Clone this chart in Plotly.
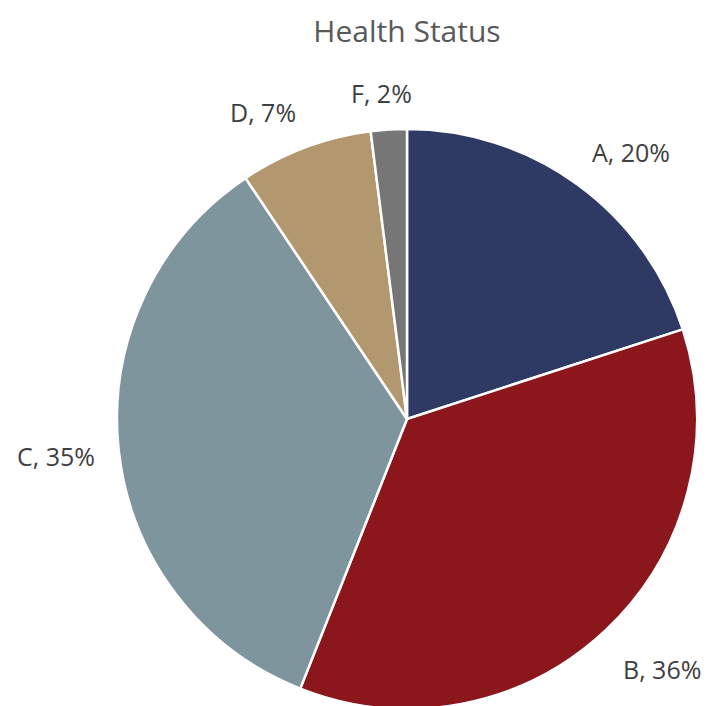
import math
import plotly.graph_objects as go

labels = ["A", "B", "C", "D", "F"]
values = [20.0, 36.0, 34.6, 7.4, 2.0]
colors = ["#2E3A64", "#8B171D", "#7F959D", "#B3976E", "#767676"]
title_text = "Health Status"

W, H = 710, 706
ml, mr, mt, mb = 109, 21, 121, 5
pw, ph = W - ml - mr, H - mt - mb
R = min(pw, ph) / 2.0
FONT = "Open Sans, Lato, sans-serif"

fig = go.Figure(go.Pie(
    labels=labels, values=values, sort=False, direction="clockwise", rotation=0,
    marker=dict(colors=colors, line=dict(color="white", width=2.5)),
    textinfo="none", hoverinfo="label+percent", showlegend=False,
))

# label placement derived from slice mid-angles
total = sum(values)
cum = 0.0
annotations = []
gap = 22
for lab, v in zip(labels, values):
    mid = (cum + v / 2) / total * 2 * math.pi
    cum += v
    s, c = math.sin(mid), math.cos(mid)
    px_off = (R + gap) * s
    py_off = (R + gap) * c
    xa = "left" if s > 0.3 else ("right" if s < -0.3 else "center")
    ya = "bottom" if c > 0.3 else ("top" if c < -0.3 else "middle")
    pct = round(v / total * 100)
    annotations.append(dict(
        x=0.5 + px_off / pw, y=0.5 + py_off / ph, xref="paper", yref="paper",
        text=f"{lab}, {pct}%", showarrow=False, xanchor=xa, yanchor=ya,
        xshift=-6 if xa == "center" else 0, yshift=-4,
        font=dict(size=25, color="#404040", family=FONT),
    ))

fig.update_layout(
    width=W, height=H,
    margin=dict(l=ml, r=mr, t=mt, b=mb),
    paper_bgcolor="white", plot_bgcolor="white",
    title=dict(text=title_text, x=0.5, xref="paper", y=1 - 23 / H, yref="container",
               xanchor="center", yanchor="middle",
               font=dict(size=30, color="#595959", family=FONT)),
    annotations=annotations,
)

fig.write_html("out.html")
